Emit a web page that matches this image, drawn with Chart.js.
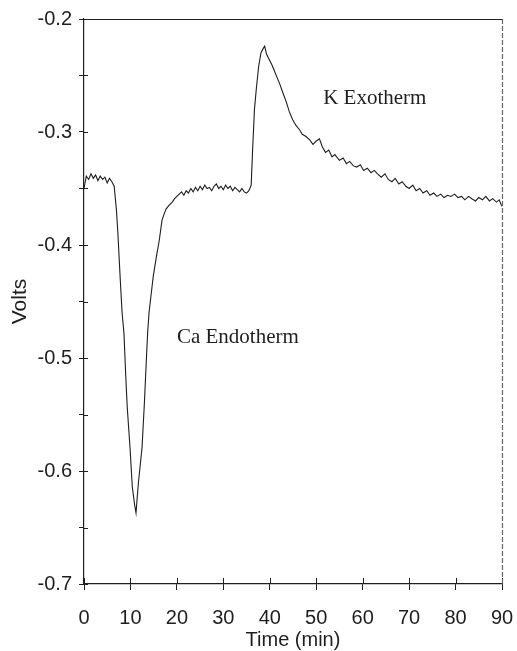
<!DOCTYPE html>
<html>
<head>
<meta charset="utf-8">
<script src="https://cdn.jsdelivr.net/npm/chart.js@4.4.1/dist/chart.umd.min.js"></script>
<style>
  html, body { margin: 0; padding: 0; background: #fff; }
  canvas { display: block; }
</style>
</head>
<body>
<canvas id="thermo-chart" width="517" height="651"></canvas>
<script>
// Ca endotherm / K exotherm trace
const timeMin = [
  0, 0.5, 1, 1.5, 2, 2.5, 3, 3.5, 4, 4.5, 5, 5.5, 6, 6.5,
  7, 7.3, 7.8, 8.2, 8.6, 9, 9.3, 9.9, 10.4, 10.9, 11.2,
  11.7, 12.5, 13, 13.4, 13.7, 14, 14.9, 15.6, 16.2, 16.8, 17.3, 17.7, 18.3,
  19, 19.5, 20, 20.5, 21, 21.5, 22, 22.5, 23, 23.5, 24, 24.5, 25, 25.5, 26, 26.5, 27, 27.5,
  28, 28.5, 29, 29.5, 30, 30.5, 31, 31.5, 32, 32.5, 33, 33.5, 34, 34.5, 35, 35.5,
  36, 36.3, 36.7, 37.1, 37.6, 38.1, 38.6, 38.9, 39.3,
  39.9, 40.5, 41, 41.5, 42.1, 42.8, 43.6, 44.2, 44.9, 45.6, 46.4, 47, 47.8, 48.6, 49.3,
  50, 50.7, 51.3, 52, 52.7, 53.4, 54, 55, 55.8, 56.5, 57.2, 58, 58.7, 59.5,
  60.2, 61, 61.8, 62.5, 63.2, 64, 64.8, 65.5, 66.3, 67, 67.8, 68.5, 69.3, 70, 70.8, 71.5, 72.3, 73, 73.8, 74.5,
  75.3, 76, 76.8, 77.5, 78.3, 79, 79.8, 80.5, 81.3, 82, 82.8, 83.5, 84.3, 85, 85.8, 86.5, 87.3, 88, 88.8, 89.4, 90
];
const volts = [
  -0.350, -0.339, -0.342, -0.337, -0.341, -0.338, -0.343, -0.339, -0.342, -0.340, -0.345, -0.341, -0.344, -0.348,
  -0.370, -0.390, -0.430, -0.460, -0.478, -0.517, -0.543, -0.579, -0.614, -0.630, -0.637,
  -0.611, -0.579, -0.540, -0.504, -0.478, -0.460, -0.428, -0.410, -0.396, -0.378, -0.372, -0.368, -0.365,
  -0.362, -0.359, -0.357, -0.355, -0.353, -0.356, -0.352, -0.354, -0.350, -0.353, -0.349, -0.352, -0.348, -0.351, -0.347, -0.350, -0.349, -0.352,
  -0.348, -0.346, -0.350, -0.348, -0.351, -0.347, -0.350, -0.348, -0.352, -0.349, -0.351, -0.353, -0.350, -0.353, -0.354, -0.352,
  -0.347, -0.316, -0.280, -0.262, -0.242, -0.230, -0.226, -0.224, -0.231,
  -0.236, -0.241, -0.246, -0.251, -0.257, -0.265, -0.274, -0.282, -0.289, -0.294, -0.298, -0.302, -0.304, -0.307, -0.311,
  -0.308, -0.306, -0.313, -0.318, -0.316, -0.322, -0.320, -0.325, -0.323, -0.328, -0.326, -0.330, -0.331, -0.329,
  -0.334, -0.332, -0.336, -0.334, -0.337, -0.340, -0.337, -0.342, -0.344, -0.341, -0.346, -0.344, -0.348, -0.350, -0.347, -0.352, -0.350, -0.354, -0.352, -0.356,
  -0.354, -0.357, -0.355, -0.358, -0.356, -0.357, -0.355, -0.358, -0.357, -0.360, -0.357, -0.359, -0.361, -0.358, -0.360, -0.357, -0.361, -0.359, -0.362, -0.360, -0.366
];

const xTicks = [0, 10, 20, 30, 40, 50, 60, 70, 80, 90];
const yTicks = [-0.7, -0.6, -0.5, -0.4, -0.3, -0.2];

const noteText = ['K Exotherm', 'Ca Endotherm'];
const noteX = [51.5, 20.0];
const noteY = [-0.2752, -0.4867];

const ink = '#1e1e1e';

// ticks poke into the plot too, and the box is closed on top and right
const framePlugin = {
  id: 'frame',
  afterDraw(chart) {
    const { ctx, chartArea: a, scales: { x, y } } = chart;
    ctx.save();
    ctx.strokeStyle = ink;
    ctx.lineWidth = 1;
    x.ticks.forEach(t => {
      const px = Math.round(x.getPixelForValue(t.value)) + 0.5;
      ctx.beginPath(); ctx.moveTo(px, a.bottom); ctx.lineTo(px, a.bottom - 6); ctx.stroke();
    });
    y.ticks.forEach(t => {
      const py = Math.round(y.getPixelForValue(t.value)) + 0.5;
      ctx.beginPath(); ctx.moveTo(a.left, py); ctx.lineTo(a.left + 4, py); ctx.stroke();
    });
    ctx.lineWidth = 1.2;
    ctx.beginPath(); ctx.moveTo(a.left, a.top + 0.5); ctx.lineTo(a.right, a.top + 0.5); ctx.stroke();
    ctx.strokeStyle = '#666';
    ctx.setLineDash([5, 2]);
    ctx.beginPath(); ctx.moveTo(a.right + 0.5, a.top); ctx.lineTo(a.right + 0.5, a.bottom); ctx.stroke();
    ctx.setLineDash([]);

    ctx.fillStyle = ink;
    ctx.font = '21px "Liberation Serif", "Times New Roman", serif';
    ctx.textAlign = 'left';
    ctx.textBaseline = 'alphabetic';
    noteText.forEach((txt, i) => {
      ctx.fillText(txt, x.getPixelForValue(noteX[i]), y.getPixelForValue(noteY[i]));
    });
    ctx.restore();
  }
};

const sans = '"Liberation Sans", Arial, sans-serif';

new Chart(document.getElementById('thermo-chart'), {
  type: 'line',
  data: {
    datasets: [{
      label: 'Volts',
      data: timeMin.map((t, i) => ({ x: t, y: volts[i] })),
      borderColor: ink,
      borderWidth: 1.1,
      pointRadius: 0,
      tension: 0,
      fill: false
    }]
  },
  options: {
    responsive: false,
    animation: false,
    devicePixelRatio: 1,
    layout: { padding: { top: 19, right: 15, left: 0, bottom: 0 } },
    plugins: { legend: { display: false }, tooltip: { enabled: false } },
    scales: {
      x: {
        type: 'linear',
        min: 0,
        max: 90,
        afterBuildTicks: s => { s.ticks = xTicks.map(v => ({ value: v })); },
        afterFit: s => { s.height = 67; s.paddingLeft = 0; s.paddingRight = 0; },
        grid: { display: true, drawOnChartArea: false, tickLength: 6, color: ink },
        border: { display: true, color: ink, width: 1.2 },
        ticks: { color: ink, font: { family: sans, size: 20 }, padding: 16, maxRotation: 0 },
        title: { display: true, text: 'Time (min)', color: ink, font: { family: sans, size: 20 }, padding: { top: 0, bottom: -1 } }
      },
      y: {
        type: 'linear',
        min: -0.7,
        max: -0.2,
        afterBuildTicks: s => {
          const ticks = [];
          yTicks.forEach((v, i) => {
            ticks.push({ value: v });
            if (i < yTicks.length - 1) ticks.push({ value: (v + yTicks[i + 1]) / 2, minor: true });
          });
          s.ticks = ticks;
        },
        afterFit: s => { s.width = 84; s.paddingTop = 0; s.paddingBottom = 0; },
        grid: { display: true, drawOnChartArea: false, tickLength: 5, color: ink },
        border: { display: true, color: ink, width: 1.2 },
        ticks: {
          color: ink,
          font: { family: sans, size: 20 },
          padding: 7,
          callback: v => yTicks.some(t => Math.abs(t - v) < 1e-9) ? v.toFixed(1) : ''
        },
        title: { display: true, text: 'Volts', color: ink, font: { family: sans, size: 21 }, padding: { top: 8, bottom: 0 } }
      }
    }
  },
  plugins: [framePlugin]
});
</script>
</body>
</html>
